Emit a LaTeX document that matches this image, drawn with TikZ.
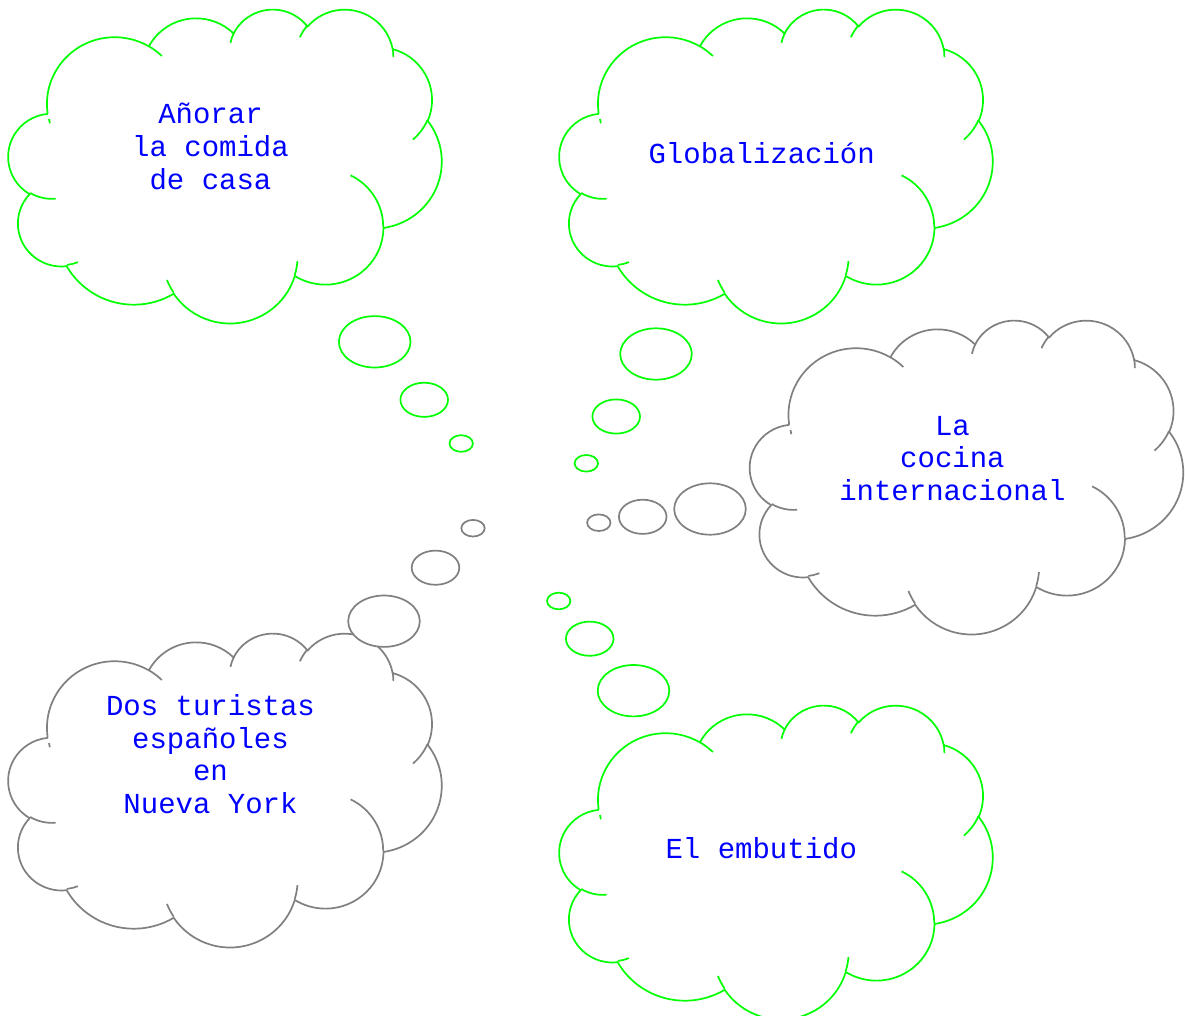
\documentclass[tikz,border=0pt]{standalone}
\usepackage{fontspec}
\newfontfamily\cour{Liberation Mono}
\definecolor{cgreen}{RGB}{0,255,0}
\definecolor{cgray}{RGB}{128,128,128}
\definecolor{cblue}{RGB}{0,0,255}
\def\csx{0.0100231}
\def\csy{0.0072685}
\newcommand\carc[4]{arc[start angle={-atan2(#1/1000*sin(#3),#2/1000*cos(#3))}, delta angle={-mod(atan2(#1/1000*sin(#3+#4),#2/1000*cos(#3+#4))-atan2(#1/1000*sin(#3),#2/1000*cos(#3))+720,360)}, x radius={#1*\csx pt}, y radius={#2*\csy pt}]}
% coordinates given in thousandths of the 43200 path units
\newcommand\cpt[2]{({#1*10.0231},{#2*7.2685})}
\tikzset{
  cloudline/.style={line width=1.7pt, line join=round},
  bubble/.style={line width=1.7pt, fill=white},
  cloudtext/.style={font=\cour\fontsize{29}{32.6}\selectfont, text=cblue, align=center, anchor=base, inner sep=0pt},
  pics/cloud/.style={code={
    \draw[cloudline, fill=white] \cpt{3.900}{14.370}
      \carc{6753}{9190}{-190.48748}{123.78053}
      \carc{5333}{7267}{-144.10238}{89.94523}
      \carc{4365}{5945}{-145.80792}{99.72302}
      \carc{4857}{6595}{-130.98607}{117.24173}
      \carc{5333}{7273}{-78.70888}{109.02692}
      \carc{6775}{9220}{-46.26725}{130.26900}
      \carc{5785}{7867}{0.62502}{114.03333}
      \carc{6752}{9215}{22.45160}{115.17255}
      \carc{7720}{10543}{66.24263}{75.71102}
      \carc{4360}{5918}{-274.94208}{146.73557}
      \carc{4345}{5945}{-246.82850}{152.51885} -- cycle;
    \draw[cloudline]
      \cpt{4.693}{26.177} \carc{4345}{5945}{86.742}{26.4295}
      \cpt{6.928}{34.899} \carc{4360}{5918}{73.61047}{11.44747}
      \cpt{16.478}{39.090} \carc{6752}{9215}{137.62415}{14.0811}
      \cpt{28.827}{34.751} \carc{6752}{9215}{6.45327}{15.99835}
      \cpt{34.129}{22.954} \carc{5785}{7867}{-70.29235}{70.91737}
      \cpt{41.798}{15.354} \carc{5333}{7273}{30.31803}{27.7515}
      \cpt{38.324}{5.426} \carc{4857}{6595}{-13.74433}{14.8589}
      \cpt{29.078}{3.952} \carc{4857}{6595}{-149.18145}{18.19537}
      \cpt{22.141}{4.720} \carc{4365}{5945}{-163.49427}{17.62517}
      \cpt{14.000}{5.192} \carc{6753}{9190}{-66.70695}{12.31935}
      \cpt{4.127}{15.789} \carc{6753}{9190}{162.04837}{4.82738};
  }},
}
\begin{document}
\begin{tikzpicture}[x=1pt,y=-1pt]
\useasboundingbox[fill=white] (0,0) rectangle (1185,1016);
% clouds
\pic[cgreen] at (8.5,8.5) {cloud};
\pic[cgreen] at (559.5,8.5) {cloud};
\pic[cgray] at (750,319.5) {cloud};
\pic[cgray] at (8.5,632.5) {cloud};
\pic[cgreen] at (559.5,704.5) {cloud};
% thought bubbles
\draw[draw=cgreen, bubble] (374.7,341.8) ellipse [x radius=35.8pt, y radius=25.7pt];
\draw[draw=cgreen, bubble] (424.2,399.8) ellipse [x radius=23.8pt, y radius=17.1pt];
\draw[draw=cgreen, bubble] (461.2,443.5) ellipse [x radius=11.7pt, y radius=8.3pt];
\draw[draw=cgreen, bubble] (656,354) ellipse [x radius=35.8pt, y radius=25.7pt];
\draw[draw=cgreen, bubble] (616.2,416.5) ellipse [x radius=23.8pt, y radius=17.1pt];
\draw[draw=cgreen, bubble] (586.3,463.3) ellipse [x radius=11.7pt, y radius=8.3pt];
\draw[draw=cgray, bubble] (710,509) ellipse [x radius=35.8pt, y radius=25.7pt];
\draw[draw=cgray, bubble] (642.7,516.8) ellipse [x radius=23.8pt, y radius=17.1pt];
\draw[draw=cgray, bubble] (598.8,522.7) ellipse [x radius=11.7pt, y radius=8.3pt];
\draw[draw=cgray, bubble] (384,621.2) ellipse [x radius=35.8pt, y radius=25.7pt];
\draw[draw=cgray, bubble] (435.5,567.7) ellipse [x radius=23.8pt, y radius=17.1pt];
\draw[draw=cgray, bubble] (473,528.2) ellipse [x radius=11.7pt, y radius=8.3pt];
\draw[draw=cgreen, bubble] (633.5,690.7) ellipse [x radius=35.8pt, y radius=25.7pt];
\draw[draw=cgreen, bubble] (589.7,638.7) ellipse [x radius=23.8pt, y radius=17.1pt];
\draw[draw=cgreen, bubble] (558.7,601) ellipse [x radius=11.7pt, y radius=8.3pt];
% texts (base = baseline of the last line)
\node[cloudtext] (t1) at (210.5,189.2) {Añorar\\la comida\\de casa};
\node[cloudtext] (t2) at (761.7,163.2) {Globalización};
\node[cloudtext] (t3) at (952.4,500.2) {La\\cocina\\internacional};
\node[cloudtext] (t4) at (210.5,813.2) {Dos turistas\\españoles\\en\\Nueva York};
\node[cloudtext] (t5) at (761.3,858.2) {El embutido};
\end{tikzpicture}
\end{document}
